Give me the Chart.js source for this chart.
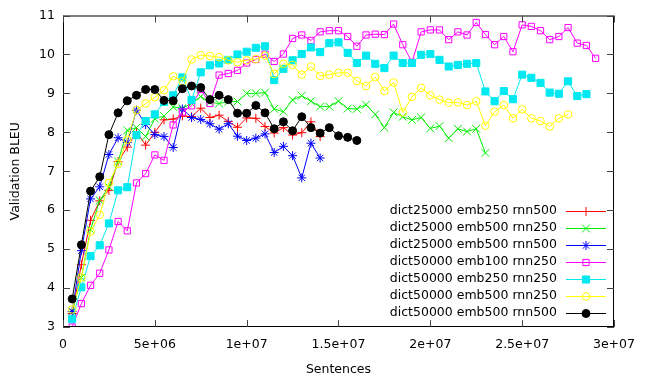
<!DOCTYPE html>
<html>
<head>
<meta charset="utf-8">
<script src="https://cdn.jsdelivr.net/npm/chart.js@4.4.1/dist/chart.umd.min.js"></script>
<style>
    html, body { margin: 0; padding: 0; background: #ffffff; }
</style>
</head>
<body>
<canvas id="bleu-chart" width="645" height="381"></canvas>
<script>
// training progress, one checkpoint every 500k sentences
let sentences = [
    0.5e6, 1e6, 1.5e6, 2e6, 2.5e6, 3e6, 3.5e6, 4e6, 4.5e6, 5e6,
    5.5e6, 6e6, 6.5e6, 7e6, 7.5e6, 8e6, 8.5e6, 9e6, 9.5e6, 10e6,
    10.5e6, 11e6, 11.5e6, 12e6, 12.5e6, 13e6, 13.5e6, 14e6, 14.5e6, 15e6,
    15.5e6, 16e6, 16.5e6, 17e6, 17.5e6, 18e6, 18.5e6, 19e6, 19.5e6, 20e6,
    20.5e6, 21e6, 21.5e6, 22e6, 22.5e6, 23e6, 23.5e6, 24e6, 24.5e6, 25e6,
    25.5e6, 26e6, 26.5e6, 27e6, 27.5e6, 28e6, 28.5e6, 29e6
];

let series_names = [
    'dict25000 emb250 rnn500',
    'dict25000 emb500 rnn250',
    'dict25000 emb500 rnn500',
    'dict50000 emb100 rnn250',
    'dict50000 emb250 rnn250',
    'dict50000 emb500 rnn250',
    'dict50000 emb500 rnn500'
];

let d25_e250_r500 = [3.35, 4.6, 5.74, 6.24, 6.51, 7.25, 7.62, 8.02, 7.67, 8.0,
    8.32, 8.34, 8.42, 8.40, 8.62, 8.38, 8.44, 8.28, 8.13, 8.37,
    8.36, 8.15, 7.98, 8.12, 7.93, 7.99, 8.27, 7.89];

let d25_e500_r250 = [3.4, 4.27, 5.5, 6.25, 6.6, 7.25, 8.05, 8.12, 7.89, 8.35,
    8.42, 8.65, 8.62, 8.74, 8.92, 8.77, 8.74, 8.79, 8.79, 9.0,
    9.0, 9.02, 8.60, 8.53, 8.83, 8.94, 8.80, 8.66, 8.66, 8.80,
    8.61, 8.60, 8.71, 8.46, 8.12, 8.51, 8.40, 8.32, 8.38, 8.10,
    8.16, 7.85, 8.09, 8.02, 8.09, 7.47];

let d25_e500_r500 = [3.4, 4.96, 6.29, 6.60, 7.43, 7.86, 7.74, 8.57, 8.2, 7.94,
    7.89, 7.61, 8.60, 8.38, 8.33, 8.22, 8.08, 8.22, 7.90, 7.79,
    7.85, 7.96, 7.48, 7.64, 7.40, 6.83, 7.72, 7.34];

let d50_e100_r250 = [3.0, 3.60, 4.07, 4.38, 4.98, 5.71, 5.47, 6.70, 6.94, 7.42,
    7.28, 8.19, 8.52, 8.68, 9.1, 8.74, 9.47, 9.51, 9.59, 9.78,
    9.87, 10.01, 9.82, 10.01, 10.41, 10.50, 10.36, 10.58, 10.61, 10.61,
    10.46, 10.21, 10.50, 10.52, 10.51, 10.78, 10.25, 9.80, 10.58, 10.63,
    10.63, 10.38, 10.58, 10.50, 10.82, 10.51, 10.25, 10.46, 10.07, 10.76,
    10.72, 10.61, 10.38, 10.46, 10.69, 10.29, 10.23, 9.90];

let d50_e250_r250 = [3.20, 4.02, 4.82, 5.10, 5.66, 6.51, 6.59, 7.93, 8.29, 8.46,
    8.78, 8.95, 9.41, 8.83, 9.54, 9.72, 9.77, 9.86, 10.0, 10.07,
    10.17, 10.21, 9.34, 9.63, 9.85, 10.01, 10.18, 10.06, 10.29, 10.31,
    10.04, 9.78, 9.97, 9.76, 9.65, 9.97, 9.78, 9.78, 9.99, 10.01,
    9.86, 9.69, 9.73, 9.76, 9.78, 9.05, 8.80, 9.06, 8.85, 9.48,
    9.40, 9.27, 9.02, 8.99, 9.31, 8.93, 8.98];

let d50_e500_r250 = [3.45, 4.27, 5.45, 5.88, 6.70, 7.19, 7.81, 8.57, 8.74, 8.9,
    9.08, 9.44, 9.31, 9.87, 9.98, 9.96, 9.93, 9.85, 9.80, 9.85,
    9.88, 9.97, 9.50, 9.76, 9.73, 9.48, 9.69, 9.45, 9.48, 9.53,
    9.53, 9.32, 9.19, 9.42, 9.06, 9.28, 8.51, 8.91, 9.14, 8.95,
    8.84, 8.76, 8.77, 8.70, 8.80, 8.17, 8.53, 8.70, 8.36, 8.59,
    8.36, 8.29, 8.15, 8.36, 8.46];

let d50_e500_r500 = [3.72, 5.11, 6.49, 6.86, 7.94, 8.50, 8.81, 8.95, 9.10, 9.10,
    8.82, 8.81, 9.12, 9.19, 9.15, 8.84, 8.95, 8.84, 8.49, 8.49,
    8.69, 8.50, 8.09, 8.27, 8.04, 8.40, 8.12, 7.98, 8.12, 7.91,
    7.87, 7.79];

let x_ticks = [0, 5e6, 1e7, 1.5e7, 2e7, 2.5e7, 3e7];
let y_ticks = [3, 4, 5, 6, 7, 8, 9, 10, 11];

let font_family = "'DejaVu Sans', sans-serif";
let font_size = 12.5;

// gnuplot style: line colour, point shape, filled or not, point radius
let styles = [
    {color: '#ff0000', shape: 'cross', fill: false, r: 4.5},
    {color: '#00ee00', shape: 'crossRot', fill: false, r: 5.5},
    {color: '#0000ff', shape: 'star', fill: false, r: 4.5},
    {color: '#ff00ff', shape: 'rect', fill: false, r: 4.4},
    {color: '#00e8f0', shape: 'rect', fill: true, r: 5},
    {color: '#ffff00', shape: 'circle', fill: false, r: 3.8},
    {color: '#000000', shape: 'circle', fill: true, r: 4},
];

function to_points(values) {
    return values.map((v, i) => ({x: sentences[i], y: v}));
}

function gnuplot_exp(v) {
    if (v === 0) {return '0'}
    return v.toExponential().replace(/e\+(\d)$/, 'e+0$1');
}

let all_values = [d25_e250_r500, d25_e500_r250, d25_e500_r500,
    d50_e100_r250, d50_e250_r250, d50_e500_r250, d50_e500_r500];

let datasets = all_values.map((values, i) => {
    let s = styles[i];
    return {
        label: series_names[i],
        data: to_points(values),
        borderColor: s.color,
        backgroundColor: s.fill ? s.color : 'rgba(0,0,0,0)',
        borderWidth: 1,
        pointStyle: s.shape,
        pointRadius: s.r,
        pointBorderWidth: 1,
        pointBorderColor: s.color,
        pointBackgroundColor: s.fill ? s.color : 'rgba(0,0,0,0)',
        tension: 0,
        fill: false,
        order: all_values.length - i,
    };
});

// border box, inward ticks on all four sides, and the key at the lower right
let gnuplot_frame = {
    id: 'gnuplot_frame',
    afterDatasetsDraw(chart) {
        let ctx = chart.ctx;
        let area = chart.chartArea;
        let xs = chart.scales.x;
        let ys = chart.scales.y;
        let tick_len = 7;
        ctx.save();
        ctx.lineWidth = 1;
        ctx.strokeStyle = '#000000';
        ctx.strokeRect(area.left + 0.5, area.top + 0.5, area.right - area.left - 1, area.bottom - area.top - 1);
        ctx.strokeStyle = '#444444';
        ctx.beginPath();
        x_ticks.forEach((t) => {
            let px = Math.round(xs.getPixelForValue(t)) + 0.5;
            ctx.moveTo(px, area.bottom);
            ctx.lineTo(px, area.bottom - tick_len);
            ctx.moveTo(px, area.top);
            ctx.lineTo(px, area.top + tick_len);
        });
        y_ticks.forEach((t) => {
            let py = Math.round(ys.getPixelForValue(t)) + 0.5;
            ctx.moveTo(area.left, py);
            ctx.lineTo(area.left + tick_len, py);
            ctx.moveTo(area.right, py);
            ctx.lineTo(area.right - tick_len, py);
        });
        ctx.stroke();

        // key
        ctx.font = font_size + 'px ' + font_family;
        ctx.textAlign = 'right';
        ctx.textBaseline = 'middle';
        chart.data.datasets.forEach((ds, i) => {
            let y = 211 + i * 17;
            ctx.fillStyle = '#000000';
            ctx.fillText(ds.label, 557, y);
            ctx.strokeStyle = ds.borderColor;
            ctx.beginPath();
            ctx.moveTo(566, y + 0.5);
            ctx.lineTo(606, y + 0.5);
            ctx.stroke();
            ctx.fillStyle = ds.pointBackgroundColor;
            Chart.helpers.drawPoint(ctx, {
                pointStyle: ds.pointStyle,
                radius: ds.pointRadius,
                borderWidth: 1,
                rotation: 0
            }, 586, y + 0.5);
        });
        ctx.restore();
    }
};

document.addEventListener('DOMContentLoaded', () => {
    let ctx = document.getElementById('bleu-chart');
    new Chart(ctx, {
        type: 'line',
        data: {datasets: datasets},
        plugins: [gnuplot_frame],
        options: {
            responsive: false,
            animation: false,
            events: [],
            layout: {padding: {top: 13, right: 23, left: 0, bottom: 0}},
            plugins: {
                legend: {display: false},
                tooltip: {enabled: false},
            },
            scales: {
                x: {
                    type: 'linear',
                    min: 0,
                    max: 3e7,
                    afterBuildTicks: (scale) => {
                        scale.ticks = x_ticks.map((v) => ({value: v}));
                    },
                    afterFit: (scale) => { scale.height = 54; },
                    grid: {display: false, drawTicks: false},
                    border: {display: false},
                    ticks: {
                        color: '#000000',
                        padding: 10,
                        maxRotation: 0,
                        autoSkip: false,
                        font: {family: font_family, size: font_size},
                        callback: (v) => gnuplot_exp(v),
                    },
                    title: {
                        display: true,
                        text: 'Sentences',
                        color: '#000000',
                        padding: {top: 0, bottom: 4},
                        font: {family: font_family, size: font_size},
                    },
                },
                y: {
                    min: 3,
                    max: 11,
                    afterBuildTicks: (scale) => {
                        scale.ticks = y_ticks.map((v) => ({value: v}));
                    },
                    afterFit: (scale) => { scale.width = 63; },
                    grid: {display: false, drawTicks: false},
                    border: {display: false},
                    ticks: {
                        color: '#000000',
                        padding: 8,
                        font: {family: font_family, size: font_size},
                        callback: (v) => String(v),
                    },
                    title: {
                        display: true,
                        text: 'Validation BLEU',
                        color: '#000000',
                        padding: {top: 8, bottom: 0},
                        font: {family: font_family, size: font_size},
                    },
                },
            },
        },
    });
});
</script>
</body>
</html>
